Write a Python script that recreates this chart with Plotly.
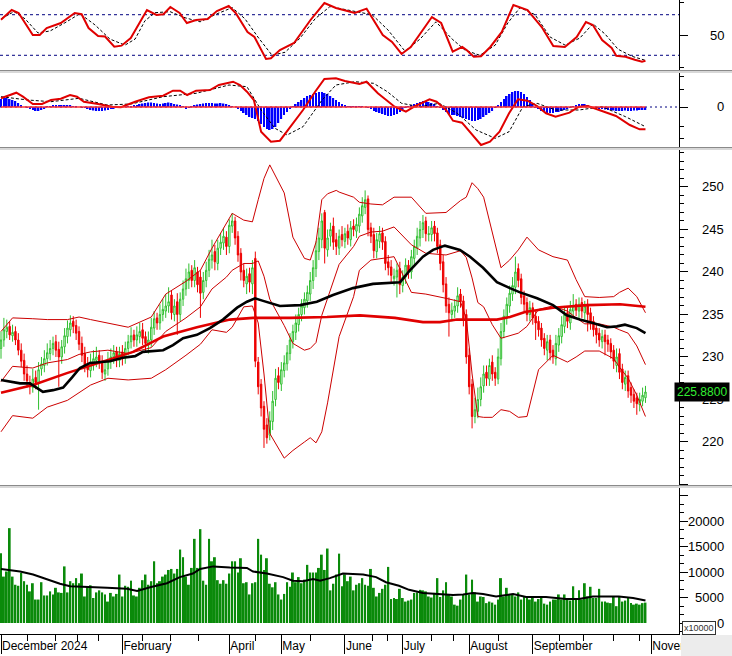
import plotly.graph_objects as go

# ---------------- data ----------------
month_bar = [0, 42, 79, 97, 119, 139, 162, 184, 225]
month_text = ["December 2024", "February", "April", "May", "June", "July",
              "August", "September", "November"]
half_month_bar = [9.3, 18.7, 26.3, 33.6, 49.1, 58.5, 68.5, 88, 107, 128.4,
                  133.9, 148.8, 156.4, 172.3, 193.1, 201.7, 211.8, 220.8]

open_ = [
231.0,232.0,233.0,233.6,232.5,233.0,232.0,230.8,229.6,228.0,
227.0,226.4,227.6,227.0,228.6,229.0,229.8,230.4,231.0,231.8,
230.9,230.0,231.2,232.4,233.2,234.2,233.7,233.0,231.6,230.4,
229.2,228.4,229.2,229.6,230.2,229.5,228.0,228.6,229.5,230.0,
230.6,229.6,230.6,230.0,231.0,231.8,232.6,232.0,232.4,233.2,
232.4,231.4,232.0,233.4,234.6,234.0,235.0,235.4,236.0,237.3,
235.0,236.5,235.0,236.8,238.0,239.0,240.2,239.0,240.0,239.4,
237.6,239.0,240.2,241.4,242.4,241.0,242.8,243.4,244.1,243.0,
245.4,246.0,244.2,242.2,240.2,238.6,239.8,238.6,241.6,229.4,
226.8,224.2,222.0,220.8,222.4,225.0,227.8,226.8,228.4,229.2,
230.4,231.8,232.9,233.8,235.0,235.8,236.6,237.4,239.0,240.4,
242.4,243.8,247.0,242.6,244.2,245.4,243.8,242.8,244.4,243.6,
244.8,243.8,245.4,244.8,245.4,246.6,247.6,248.6,245.2,244.4,
242.4,243.6,244.6,243.6,241.2,240.6,239.2,239.4,240.4,238.4,
239.4,240.8,240.0,241.6,242.8,244.0,245.0,246.0,244.4,244.4,
245.4,244.6,243.2,241.2,238.6,236.2,235.0,235.4,236.0,237.4,
236.6,235.0,230.2,226.8,223.0,223.6,225.0,226.6,228.2,227.4,
229.4,228.2,227.4,229.8,233.0,234.6,236.0,237.4,238.2,240.4,
239.2,237.2,236.4,235.0,235.8,234.8,234.2,233.4,232.2,230.8,
232.0,230.8,229.8,231.4,232.4,233.6,235.2,234.0,235.4,236.2,
235.4,236.4,235.2,236.2,235.2,234.2,233.4,232.8,231.8,232.6,
232.0,231.6,230.8,229.0,230.4,228.6,226.8,227.8,226.4,225.6,
225.2,224.4,224.8,225.2]

high = [
233.0,234.6,234.4,234.2,233.8,233.6,232.8,231.6,230.4,229.0,
227.8,228.6,228.4,229.4,230.0,230.8,231.6,232.0,232.4,232.6,
231.8,232.0,233.4,234.3,234.9,234.8,234.4,233.6,232.4,231.2,
230.0,230.4,230.8,231.2,230.8,230.2,229.6,230.6,231.0,231.4,
231.2,231.2,231.4,231.8,232.6,233.5,233.2,233.6,234.0,234.0,
233.0,233.0,234.6,235.4,235.2,236.2,236.8,237.4,238.2,237.8,
236.8,237.5,237.6,239.0,240.4,241.0,240.8,241.4,240.6,240.2,
240.0,241.2,242.6,243.8,243.2,243.8,244.6,245.2,244.8,246.2,
246.9,246.5,244.8,242.8,241.0,240.4,240.5,241.4,242.4,230.0,
227.4,224.8,222.8,223.6,226.0,228.6,228.8,229.4,230.2,231.4,
232.8,233.8,235.0,235.8,236.8,237.6,238.4,240.0,241.4,243.6,
245.2,246.9,247.3,245.0,245.8,246.4,244.6,245.0,245.4,245.2,
245.6,246.0,246.2,246.4,247.6,248.8,249.6,249.0,245.8,245.2,
244.6,245.4,245.2,244.2,242.0,241.4,240.4,241.0,241.2,240.2,
241.6,241.4,242.6,243.8,245.2,246.0,246.7,246.5,245.4,246.0,
246.0,245.2,243.8,242.0,239.4,237.0,236.4,236.8,238.2,238.0,
237.2,235.6,231.0,227.4,225.2,226.4,227.6,229.0,229.0,229.8,
230.2,228.8,231.0,234.0,235.6,237.0,238.4,239.4,241.8,241.0,
239.8,237.8,237.0,236.6,236.4,235.4,234.8,234.0,232.8,232.6,
232.6,231.4,232.6,233.4,234.8,236.0,235.8,236.6,237.4,236.8,
237.0,237.0,236.6,236.8,235.8,234.8,234.0,233.4,233.2,233.2,
232.6,232.2,231.4,231.0,231.0,229.2,228.4,228.4,227.0,226.2,
225.8,225.8,226.4,226.6]

low = [
229.8,231.2,232.2,232.0,231.8,231.4,230.2,228.8,227.2,226.4,
225.6,225.8,226.2,223.8,227.8,228.2,229.0,229.6,230.2,230.0,
226.5,229.2,230.4,231.6,232.4,232.8,232.0,230.8,229.4,228.2,
227.6,227.6,228.4,228.8,228.6,227.4,227.2,227.8,228.6,229.2,
228.8,228.8,229.0,229.2,230.2,231.0,231.2,231.2,231.6,231.4,
230.6,230.4,231.2,232.6,233.2,233.2,234.2,234.6,235.2,234.4,
234.2,232.6,234.2,236.0,237.2,238.0,238.2,238.2,237.6,234.6,
236.8,238.2,239.4,240.4,240.2,240.2,242.0,242.6,242.0,242.2,
244.6,243.2,241.2,239.0,238.2,237.4,237.6,237.4,228.8,225.6,
223.0,219.3,219.8,220.2,221.4,224.2,226.2,226.0,227.6,228.4,
229.6,231.0,232.0,233.0,234.2,235.0,235.8,236.6,238.0,239.4,
241.4,242.8,241.0,241.8,243.0,242.6,242.0,242.0,243.0,242.8,
243.2,243.0,244.2,244.0,244.6,245.8,246.8,244.2,243.4,241.6,
241.6,242.8,242.6,240.2,239.6,238.6,238.4,237.0,237.4,237.6,
238.6,239.2,239.2,240.8,242.0,243.0,244.0,243.6,243.6,243.6,
243.6,242.2,240.2,237.6,235.2,232.4,234.2,234.6,235.2,235.8,
233.6,229.2,225.6,221.6,222.2,222.8,224.2,225.8,226.6,226.6,
227.2,226.6,226.8,229.0,232.2,233.8,235.2,236.6,237.4,238.2,
236.2,235.4,234.2,234.2,233.8,232.0,232.4,231.2,230.2,229.6,
229.6,229.2,229.0,230.6,231.6,232.8,233.4,233.2,234.6,234.8,
234.6,234.6,234.4,233.0,233.2,232.4,231.6,231.2,231.0,230.2,
230.6,229.8,228.6,228.2,227.4,226.2,226.0,225.2,224.6,224.0,
223.2,223.6,224.2,224.6]

close = [
232.0,233.2,233.5,232.6,232.9,232.0,230.8,229.5,228.0,227.2,
226.5,227.4,227.0,228.5,229.2,229.8,230.5,231.0,231.6,230.8,
230.0,231.2,232.5,233.4,234.0,233.6,232.8,231.5,230.2,229.0,
228.5,229.4,229.8,230.0,229.3,228.2,228.5,229.6,230.0,230.5,
229.7,230.4,230.0,231.0,231.8,232.5,232.0,232.6,233.0,232.2,
231.6,232.0,233.5,234.5,234.0,235.0,235.6,236.0,236.5,235.2,
236.0,235.0,236.8,238.0,239.2,240.0,239.0,240.5,238.5,237.5,
239.0,240.2,241.5,242.0,241.2,242.8,243.5,244.2,243.0,245.5,
246.0,244.0,242.0,240.0,239.0,239.5,238.8,240.5,229.5,226.5,
224.0,221.5,220.5,222.5,224.8,227.5,227.0,228.5,229.3,230.5,
232.0,233.0,234.0,235.0,236.0,236.8,237.6,239.0,240.5,242.5,
244.0,246.0,242.8,244.0,245.0,243.5,243.0,244.2,243.8,244.5,
244.0,245.2,245.0,245.6,246.8,247.8,248.5,245.0,244.2,242.5,
243.8,244.5,243.5,241.0,240.5,239.6,239.5,240.2,238.5,239.4,
240.8,240.0,241.8,243.0,244.2,245.0,245.8,244.5,244.5,245.2,
244.5,243.0,241.0,238.5,236.0,235.2,235.5,236.0,237.2,236.5,
234.5,230.0,226.5,223.0,223.8,225.0,226.5,228.0,227.5,229.0,
228.0,227.5,230.0,233.0,234.8,236.2,237.5,238.4,240.0,239.0,
237.0,236.2,235.0,235.8,234.6,234.0,233.2,232.0,231.0,231.8,
230.5,230.0,231.6,232.5,233.8,235.0,234.2,235.6,236.0,235.5,
236.2,235.4,236.0,235.0,234.0,233.2,232.6,232.0,232.4,231.8,
231.5,230.6,229.5,230.0,228.2,227.0,227.6,226.0,225.5,224.8,
224.5,225.0,225.5,225.88]

volume = [
13700,9100,10100,18600,9100,7500,7300,9800,8200,7500,
6200,7800,4600,4600,8000,5400,5400,6200,5600,6900,
6000,5900,11100,6000,8200,7800,8800,7800,9700,5200,
7200,7400,4900,6000,6400,6000,5600,4200,5900,5200,
5700,9500,5200,7300,7100,8300,5400,5200,6900,8400,
9500,7500,8200,12100,7800,8200,9100,9500,10400,10600,
9700,10600,14400,12900,9100,7500,10800,16500,10800,18400,
8300,7500,16500,12100,12900,8400,7700,8400,7700,9700,
12100,12100,9900,12700,7800,8000,5600,7800,8000,16500,
13400,10400,12700,7700,7000,8000,5600,4600,5700,
8000,7100,9900,8000,9000,7800,8500,11400,9900,9900,
9900,10800,13400,10400,14600,6400,7700,9500,13600,7200,
9500,8200,9100,6400,7500,7800,8800,7500,
7300,10600,6900,5200,5900,6700,7500,11000,4700,4900,
4700,6700,4900,4200,4400,4600,5900,6000,6500,6400,
6200,5200,5000,5900,8800,5100,6400,8000,5600,5200,
3600,3400,4600,5600,9500,5600,8500,6000,4200,5200,
5100,3900,4200,4000,3600,4600,8800,5200,6900,5600,
5700,5200,6000,4600,5200,4900,4600,4900,4200,
4700,4900,3800,3600,4200,4600,4600,5600,4600,5600,
4600,4400,7200,4600,6400,4600,7800,5200,7100,4900,
4900,6700,4200,4200,4000,3900,5200,3300,5200,4200,
4400,4900,3900,3600,3800,3600,3900,4000]

vol_ma_bar = [0, 6.6, 11.1, 14.5, 20.4, 23.9, 29.8, 36.7, 43.6, 47.1, 51.6, 57.4, 61.9,
              66.4, 68.9, 73.4, 79.2, 85.1, 87.2, 92, 97.6, 101, 104.5, 108, 110.4, 113.8,
              118.3, 125.3, 129.8, 133.2, 137.7, 141.2, 146, 151.6, 156.4, 159.9, 163.3,
              166.8, 171.3, 177.2, 181.7, 188.6, 195.5, 200, 204.8, 213.8, 218.7, 223]
vol_ma_val = [10600, 10100, 9500, 8800, 7700, 7200, 7000, 6900, 6700, 6300, 7000, 7800, 9000,
              9700, 10600, 11100, 10900, 10800, 10100, 9700, 9000, 8300, 8200, 8600, 8300, 8800,
              9700, 9500, 9000, 8000, 7300, 6500, 5900, 5700, 5500, 5600, 5900,
              5700, 5200, 5700, 5100, 5100, 4700, 4700, 5200, 5200, 4900, 4400]

# Bollinger bands (upper / middle / lower)
bb_bar = [0, 4, 11, 16, 23, 27, 31, 37, 44, 52, 57, 64, 69, 73, 78, 80, 84, 87, 89, 91,
          93, 98, 101, 105, 107, 109, 111, 113, 116, 117, 122, 124, 128, 132, 136, 142,
          147, 154, 159, 161, 163, 165, 167, 170, 173, 176, 179, 182, 186, 191, 196, 199,
          202, 207, 212, 214, 217, 220, 223]
bb_upper = [233.0, 234.6, 234.5, 234.4, 234.4, 234.7, 234.4, 234.0, 233.5, 234.7, 237.4,
            238.9, 240.2, 242.8, 245.8, 246.9, 246.1, 245.9, 248.5, 251.0, 252.6, 249.3,
            244.1, 241.6, 241.4, 243.5, 248.5, 249.2, 249.6, 249.4, 248.8, 248.2, 248.0,
            247.9, 248.8, 248.8, 246.9, 247.0, 248.4, 248.8, 250.5, 249.8, 248.8, 244.6,
            240.5, 241.4, 242.6, 244.1, 242.6, 241.8, 241.4, 239.1, 237.1, 237.0, 237.1,
            237.6, 238.1, 237.1, 235.2]
bb_mid = [227.1, 228.9, 228.7, 229.3, 229.7, 230.3, 230.6, 230.8, 230.4, 231.1, 233.0,
          234.6, 235.9, 238.0, 239.4, 240.2, 241.0, 241.0, 241.3, 239.5, 236.8, 233.7,
          231.6, 230.8, 231.0, 231.7, 234.9, 236.9, 240.1, 240.9, 243.0, 244.2, 244.7,
          244.8, 245.3, 243.2, 242.2, 242.0, 242.5, 241.7, 239.3, 236.4, 235.9, 233.8,
          232.2, 232.5, 232.8, 233.6, 235.6, 236.0, 235.4, 234.6, 233.9, 233.9, 233.5,
          233.2, 232.8, 231.3, 229.1]
bb_lower = [221.2, 223.1, 222.8, 224.1, 224.9, 225.8, 226.7, 227.5, 227.3, 227.5, 228.5,
            230.2, 231.5, 233.2, 232.9, 233.5, 235.9, 236.0, 234.0, 228.0, 221.0, 218.1,
            219.0, 220.0, 220.5, 219.9, 221.2, 224.6, 230.5, 232.4, 237.1, 240.2, 241.4,
            241.6, 241.8, 237.6, 237.4, 236.9, 236.5, 234.5, 228.0, 223.0, 222.9, 222.9,
            223.8, 223.6, 222.9, 223.0, 228.5, 230.2, 229.4, 230.0, 230.7, 230.7, 229.8,
            228.8, 227.5, 225.5, 223.0]

# medium moving average (black) and long moving average (thick red)
ma_mid_bar = [0, 6.6, 10, 14.5, 18, 21.5, 24.6, 27.3, 30.8, 34.3, 37.7, 42.2, 46.4, 49.1,
              56.1, 59.5, 63, 67.8, 72.3, 76.8, 81.7, 85.1, 87.9, 90.7, 96.5, 103.5, 109.3,
              114.9, 121.8, 128.7, 136.3, 138.1, 141.5, 146, 149.5, 153.6, 158.8, 162.3,
              166.8, 171.6, 176.1, 179.6, 185.5, 191, 195.8, 200.3, 204.8, 209.7, 213.1,
              215.9, 220, 223]
ma_mid_val = [227.3, 226.9, 226.9, 225.9, 226.1, 226.4, 227.6, 228.7, 229.3, 229.4, 229.5,
              229.9, 230.1, 230.6, 230.8, 231.4, 232.2, 232.6, 233.4, 234.4, 235.8, 236.5,
              236.9, 236.6, 236.0, 236.1, 236.5, 237.3, 238.1, 238.6, 238.7, 238.8, 240.2,
              241.8, 242.6, 243.1, 242.6, 241.8, 240.5, 238.8, 238.1, 237.6, 236.9, 236.1,
              234.9, 234.4, 234.0, 233.5, 233.6, 233.8, 233.4, 232.8]
ma_long_bar = [0, 11.1, 22.8, 34.3, 45.7, 56.1, 67.8, 79.2, 87.2, 100, 112.8, 124.2, 136.3,
               146, 151.9, 157.8, 171.6, 176.1, 181.3, 191, 202.8, 214.2, 223]
ma_long_val = [225.8, 226.7, 228.1, 229.4, 230.6, 232.4, 233.5, 234.4, 234.6, 234.6, 234.7,
               234.9, 234.6, 234.1, 234.1, 234.4, 234.4, 234.7, 235.3, 235.8, 236.1, 236.2,
               235.9]

# RSI and its signal
rsi_bar = [0, 3.7, 6.1, 11.0, 13.4, 15.8, 20.7, 25.5, 27.9, 30.3, 33.6, 36.0, 39.2, 41.7,
           44.9, 48.1, 50.5, 53.8, 56.2, 58.6, 61.8, 64.3, 67.5, 71.5, 74.7, 78.8, 81.2,
           85.3, 87.7, 91.7, 93.4, 96.5, 101.4, 107.1, 111.9, 115.9, 122.4, 126.5, 128.9,
           132.1, 135.3, 138.6, 141.8, 145.8, 149.1, 152.3, 154.7, 156.3, 159.6, 161.2,
           163.6, 166.1, 169.3, 173.3, 177.3, 182.2, 187.1, 191.1, 195.1, 199.2, 202.4,
           204.8, 208.0, 211.3, 212.9, 216.1, 219.3, 221.8, 223]
rsi_val = [65, 74.6, 71.7, 50, 50, 56.9, 61.8, 71.7, 70.5, 56.9, 49, 48.5, 38.5, 39.5,
           47, 62.8, 74.6, 69.7, 70.5, 77.6, 71.7, 61.8, 64.8, 65.8, 73.6, 78.6, 71.7,
           53, 48, 26.4, 27, 35.2, 42.1, 64.8, 81.5, 76.6, 71.7, 76, 64.8,
           50, 43.1, 31.3, 38.2, 54.9, 67.7, 61.8, 45.1, 33.6, 38.2, 35,
           28.5, 29, 38.2, 53, 79.6, 74.6, 57.9, 39.2, 38.2, 48, 62.8,
           59.9, 45.1, 37.2, 29.6, 28.5, 25.6, 23.6, 24.6]
rsi_sig_bar = [0, 4.5, 8.3, 12.8, 17, 22.1, 27.3, 32.5, 37.7, 42.9, 46.4, 49.8, 53.3, 58.5,
               63.7, 68.9, 74, 80, 84.4, 88.9, 93.8, 98.3, 103.5, 108.7, 113.8, 120.8, 128.4,
               133.9, 139.8, 145, 150.5, 156.1, 160.6, 165.7, 171, 175.4, 179.6, 184.8, 190,
               195.2, 200.3, 204.8, 209, 213.5, 218.3, 223]
rsi_sig_val = [66, 73, 66, 52, 54, 62, 71, 60, 46, 40, 46, 64, 72, 73,
               67, 63, 70, 77, 66, 48, 30, 33, 47, 66, 78, 74, 70,
               55, 34, 46, 63, 46, 35, 30, 40, 62, 77, 70, 48,
               40, 47, 61, 51, 36, 29, 25]
rsi_levels = [70, 30]

# MACD (arbitrary units), signal and histogram
macd_bar = [0, 2.9, 5.3, 7.6, 11.0, 14.2, 17.3, 20.7, 23.9, 26.3, 28.7, 33.6, 38.4, 41.5,
            46.4, 51.2, 56.1, 59.5, 62, 64.4, 67.5, 72.3, 75.4, 80.3, 82.7, 85.1, 87.5, 90,
            93.4, 96.5, 99.7, 104.5, 108.7, 111.9, 115.9, 119, 124, 126.5, 130.4, 136.2,
            140.1, 143.4, 148.3, 150.7, 154, 156.4, 159.5, 162.8, 166.1, 169.2, 172.5,
            175.8, 178.9, 182.2, 185.5, 188.6, 191.9, 196.7, 200, 203.1, 208, 212.8,
            217.6, 221, 223]
macd_val = [8.7, 12, 14.3, 10.3, 3, 3, 7, 8.3, 12, 10.3, 5.3, 3, 0.3, -0.3,
            5.3, 9.7, 11.3, 16.3, 16.3, 12, 16.3, 17, 22, 25.3, 22, 15.3, 7, -24.7,
            -34.7, -33.7, -21.3, -3, 15.3, 28, 28.7, 26, 23, 25.3, 13.7, 0.3,
            -4.7, 1, 7.7, 5.3, -3, -13.7, -15.7, -26.3, -38, -34.7, -24.7,
            -6.3, 7.7, 6.3, 1, -6.3, -9.7, -5.7, 0.3, 1, -3.7, -9,
            -18, -22.3, -22.3]
macd_sig_bar = [0, 9.3, 17.3, 27, 36.7, 45, 56.1, 67.5, 78.9, 85.1, 90, 94.8, 99, 104.5,
                111.1, 115.9, 122.5, 128.9, 133.7, 138.6, 145, 151.6, 157.9, 164.4, 171,
                175.8, 180.6, 185.5, 191.9, 200, 208, 216.1, 223]
macd_sig_val = [10.3, 7, 5.3, 8.7, 2, 3, 10.3, 13.7, 22, 20.3, -3, -21.3, -28, -19.7,
                7, 22, 25.3, 23.7, 15.3, 3.7, 0.3, 3.7, -6.3, -23, -31.3,
                -24.7, 0.3, 3.7, -3, -3, 0.3, -9.7, -19.7]
macd_hist = [
8, 9, 9, 8, 7, 6, 4, 2, 0,
-1, -2, -3, -4, -4, -3, -2,
0.5, 1, 1.5, 2, 2, 2, 2, 1.5, 1.5, 1, 0.5, 0,
-0.5,
-1, -2, -3, -3.5, -4, -4, -4, -3.5, -3, -2, -1.5, -1,
-0.5, 0, 0.5, 0.5, 1,
1.5, 2, 3, 3.5, 4, 4.5, 4.5, 4, 3.5, 3, 3.5, 4, 4.5, 4, 3, 2.5, 2, 1,
-1.5, -0.5,
1, 2, 2.5, 3, 3.5, 4, 4, 4, 3.5, 3.5, 4, 3.5, 3, 2, 1,
0,
-2, -4, -6, -8, -10, -11, -12, -14, -17,
-20, -22, -23, -22, -20,
-16, -12, -8, -5, -2,
1, 3, 5, 7, 9, 11, 12, 13, 14, 15, 15, 14, 13, 11, 9, 7,
5, 3, 2, 1, 1, 0.5, 0.5, 1, 1, 0,
-1, -2, -4, -5, -6, -7, -8, -9, -9, -8, -7, -5, -3, -1,
1, 2, 3, 4, 5, 6, 6, 5, 4, 3, 1,
-1, -3, -5, -7, -8, -8, -9, -10, -11, -12, -13, -14, -14, -13, -12,
-10, -8, -6, -4, -1,
2, 5, 8, 11, 13, 15, 16, 16, 15, 13, 10, 7, 3,
-1, -2, -4, -5, -6, -6, -6, -5, -5, -4, -3, -2, -1,
1, 2, 3, 3, 3, 2, 1, 0,
-1, -1.5, -2, -2.5, -3, -3, -3.5, -4, -4, -4, -3.5, -4, -4, -3.5, -3.5, -3, -3, -3]

price_ticks = [220, 225, 230, 235, 240, 245, 250]
volume_ticks = [0, 5000, 10000, 15000, 20000]
last_price_label = "225.8800"

# ---------------- geometry helpers (pixels of the 732x656 page) ----------------
W, H = 732, 656
PLOT_W, PLOT_H = 679, 634


def px_x(p):
    return p / PLOT_W


def px_y(p):
    return (PLOT_H - p) / PLOT_H


n = len(close)
bars = list(range(n))

RED = "#e00000"
GREEN_C = "#2fbf2f"
VOL_GREEN = "#0a8a0a"
NAVY = "#000080"
FONT = "Liberation Sans, Arial, sans-serif"

fig = go.Figure()

# ---- RSI panel ----
fig.add_trace(go.Scatter(x=rsi_sig_bar, y=rsi_sig_val, mode="lines", yaxis="y",
                         line=dict(color="black", width=1, dash="3px,2px"), hoverinfo="skip"))
fig.add_trace(go.Scatter(x=rsi_bar, y=rsi_val, mode="lines", yaxis="y",
                         line=dict(color=RED, width=2), hoverinfo="skip"))

# ---- MACD panel ----
fig.add_trace(go.Bar(x=bars, y=macd_hist, yaxis="y2", width=0.55,
                     marker=dict(color="#0000ff", line=dict(width=0)), hoverinfo="skip"))
fig.add_trace(go.Scatter(x=macd_sig_bar, y=macd_sig_val, mode="lines", yaxis="y2",
                         line=dict(color="black", width=1, dash="3px,2px"), hoverinfo="skip"))
fig.add_trace(go.Scatter(x=macd_bar, y=macd_val, mode="lines", yaxis="y2",
                         line=dict(color=RED, width=2), hoverinfo="skip"))

# ---- price panel ----
fig.add_trace(go.Candlestick(x=bars, open=open_, high=high, low=low, close=close, yaxis="y3",
                             increasing=dict(line=dict(color=GREEN_C, width=1), fillcolor="white"),
                             decreasing=dict(line=dict(color="#ee0000", width=1), fillcolor="#ee0000"),
                             whiskerwidth=0, hoverinfo="skip"))
for band in (bb_upper, bb_mid, bb_lower):
    fig.add_trace(go.Scatter(x=bb_bar, y=band, mode="lines", yaxis="y3",
                             line=dict(color="#cc0000", width=1), hoverinfo="skip"))
fig.add_trace(go.Scatter(x=ma_long_bar, y=ma_long_val, mode="lines", yaxis="y3",
                         line=dict(color=RED, width=2.6), hoverinfo="skip"))
fig.add_trace(go.Scatter(x=ma_mid_bar, y=ma_mid_val, mode="lines", yaxis="y3",
                         line=dict(color="black", width=2.6), hoverinfo="skip"))

# ---- volume panel ----
fig.add_trace(go.Bar(x=bars, y=volume, yaxis="y4", width=0.68,
                     marker=dict(color=VOL_GREEN, line=dict(width=0)), hoverinfo="skip"))
fig.add_trace(go.Scatter(x=vol_ma_bar, y=vol_ma_val, mode="lines", yaxis="y4",
                         line=dict(color="black", width=2), hoverinfo="skip"))

x_lo = -1 / 2.89
x_hi = x_lo + PLOT_W / 2.89

common_y = dict(side="right", anchor="x", showline=True, linecolor="black", linewidth=1,
                ticks="outside", ticklen=8, tickcolor="black", showgrid=False,
                zeroline=False, showticklabels=False, fixedrange=True)

fig.update_layout(
    width=W, height=H,
    margin=dict(l=0, r=W - PLOT_W, t=0, b=H - PLOT_H),
    paper_bgcolor="white", plot_bgcolor="white",
    showlegend=False,
    font=dict(family=FONT, size=12, color="black"),
    xaxis=dict(domain=[0, 1], range=[x_lo, x_hi], anchor="y4",
               showline=True, linecolor="black", showgrid=False, zeroline=False,
               tickmode="array", tickvals=month_bar, ticktext=month_text,
               ticks="outside", ticklen=19, tickcolor="black",
               ticklabelposition="outside right", ticklabelstandoff=1,
               tickfont=dict(size=12, family=FONT, color="black"),
               minor=dict(tickmode="array", tickvals=half_month_bar, ticks="outside",
                          ticklen=6, tickcolor="black"),
               rangeslider=dict(visible=False), fixedrange=True),
    yaxis=dict(domain=[px_y(70), px_y(0)], range=[15.5, 84.5],
               tickmode="array", tickvals=[50],
               minor=dict(tickmode="array", tickvals=[17.5, 82.5], ticks="outside",
                          ticklen=4, tickcolor="black"), **common_y),
    yaxis2=dict(domain=[px_y(147), px_y(73)], range=[-40, 34],
                tickmode="array", tickvals=[0],
                minor=dict(tickmode="array", tickvals=[31, 18, -19, -31], ticks="outside",
                           ticklen=4, tickcolor="black"), **common_y),
    yaxis3=dict(domain=[px_y(485), px_y(150)], range=[214.94, 254.35],
                tickmode="linear", tick0=0, dtick=5,
                minor=dict(dtick=1, ticks="outside", ticklen=4, tickcolor="black"), **common_y),
    yaxis4=dict(domain=[0, px_y(488)], range=[-2157, 26470],
                tickmode="linear", tick0=0, dtick=5000,
                minor=dict(dtick=5000 / 3, ticks="outside", ticklen=4, tickcolor="black"),
                **common_y),
)

shapes = []
# RSI reference levels
for lv in rsi_levels:
    shapes.append(dict(type="line", xref="paper", yref="y", x0=0, x1=1, y0=lv, y1=lv,
                       line=dict(color=NAVY, width=1, dash="3px,3px"), layer="below"))
# MACD zero lines
shapes.append(dict(type="line", xref="paper", yref="y2", x0=0, x1=1, y0=0, y1=0,
                   line=dict(color=NAVY, width=1, dash="2px,3px"), layer="below"))
shapes.append(dict(type="line", xref="x", yref="y2", x0=0, x1=n - 1, y0=0, y1=0,
                   line=dict(color="#ff3030", width=1.5), layer="above"))
# panel separators
for top in (70, 147, 485):
    shapes.append(dict(type="rect", xref="paper", yref="paper", x0=0, x1=px_x(W),
                       y0=px_y(top + 3), y1=px_y(top), fillcolor="#d8d8d8",
                       line=dict(width=0), layer="above"))
    shapes.append(dict(type="line", xref="paper", yref="paper", x0=0, x1=px_x(W),
                       y0=px_y(top + 0.5), y1=px_y(top + 0.5),
                       line=dict(color="#8a8a8a", width=1), layer="above"))
# bottom-right corner box
shapes.append(dict(type="rect", xref="paper", yref="paper", x0=px_x(681), x1=px_x(W),
                   y0=px_y(H), y1=px_y(635), fillcolor="#ececec",
                   line=dict(width=0), layer="above"))
fig.update_layout(shapes=shapes)

ann = []
lab_x = px_x(726)
for v in price_ticks:
    ann.append(dict(x=lab_x, y=v, xref="paper", yref="y3", text=str(v), showarrow=False,
                    xanchor="right", yanchor="middle", font=dict(size=13, family=FONT)))
for v in volume_ticks:
    ann.append(dict(x=lab_x, y=v, xref="paper", yref="y4", text=str(v), showarrow=False,
                    xanchor="right", yanchor="middle", font=dict(size=13, family=FONT)))
ann.append(dict(x=lab_x, y=50, xref="paper", yref="y", text="50", showarrow=False,
                xanchor="right", yanchor="middle", font=dict(size=13, family=FONT)))
ann.append(dict(x=lab_x, y=0, xref="paper", yref="y2", text="0", showarrow=False,
                xanchor="right", yanchor="middle", font=dict(size=13, family=FONT)))
ann.append(dict(x=px_x(730), y=close[-1], xref="paper", yref="y3", text=last_price_label,
                showarrow=False, xanchor="right", yanchor="middle", bgcolor="black",
                borderpad=2, font=dict(size=12, family=FONT, color="#33ee33")))
ann.append(dict(x=px_x(682), y=px_y(627.5), xref="paper", yref="paper", text="x10000",
                showarrow=False, xanchor="left", yanchor="middle", bgcolor="white",
                bordercolor="#333333", borderwidth=1, borderpad=1,
                font=dict(size=9, family=FONT, color="#333333")))
fig.update_layout(annotations=ann)

fig.write_html("out.html")
